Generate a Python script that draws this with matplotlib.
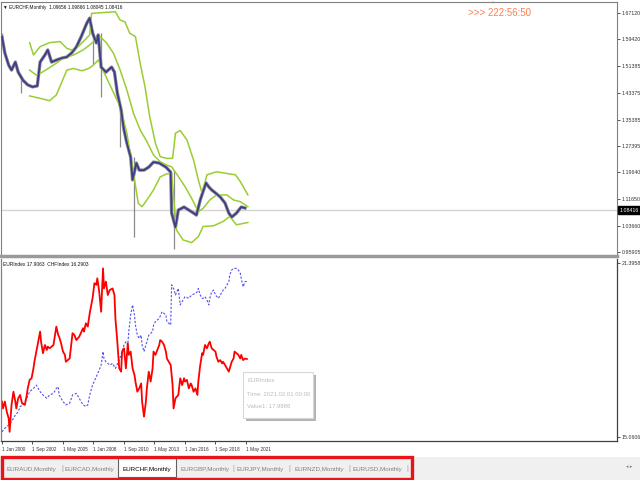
import numpy as np
import matplotlib
matplotlib.use('Agg')
import matplotlib.pyplot as plt
from matplotlib.patches import Rectangle
from matplotlib.transforms import blended_transform_factory

plt.rcParams['font.family'] = ['Liberation Sans', 'DejaVu Sans']

# EURCHF monthly close (month index from Jan 2000)
PX_M = [0, 3, 7, 10, 14, 17, 22, 27, 32, 37,
        40, 45, 48, 52, 57, 63, 68, 73, 78, 83,
        89, 92, 95, 99, 101, 104, 109, 115, 118, 121,
        125, 128, 131, 135, 137, 141, 144, 149, 154, 159,
        165, 172, 177, 178, 182, 185, 191, 196, 201, 204,
        208, 214, 217, 220, 224, 229, 234, 238, 241, 246,
        251, 255]
PX_V = [1.600, 1.552, 1.516, 1.501, 1.525, 1.495, 1.471, 1.457, 1.451, 1.454,
        1.525, 1.546, 1.561, 1.525, 1.531, 1.537, 1.540, 1.552, 1.570, 1.600,
        1.641, 1.656, 1.612, 1.582, 1.606, 1.510, 1.495, 1.510, 1.495, 1.433,
        1.382, 1.323, 1.284, 1.242, 1.174, 1.224, 1.203, 1.203, 1.212, 1.227,
        1.224, 1.212, 1.197, 1.075, 1.033, 1.084, 1.093, 1.084, 1.075, 1.069,
        1.114, 1.165, 1.153, 1.144, 1.135, 1.123, 1.105, 1.075, 1.063, 1.075,
        1.093, 1.090]

# long high/low wicks
WICK_M = [0, 20, 96, 104, 124, 138, 180]
WICK_HI = [1.612, 1.480, 1.620, 1.612, 1.382, 1.242, 1.203]
WICK_LO = [1.585, 1.433, 1.520, 1.421, 1.272, 1.004, 0.968]

# bands
UP_M = [29, 33, 40, 50, 61, 68, 73, 80, 87, 92, 94, 119, 124, 129, 134, 140, 145, 150,
        155, 161, 166, 173, 179, 182, 187, 194, 201, 206, 210, 215, 225, 236, 245, 250, 258]
UP_V = [1.583, 1.546, 1.571, 1.583, 1.586, 1.566, 1.561, 1.571, 1.591, 1.606, 1.670, 1.675,
        1.650, 1.645, 1.611, 1.601, 1.521, 1.452, 1.362, 1.283, 1.243, 1.238, 1.238, 1.313,
        1.321, 1.293, 1.233, 1.174, 1.134, 1.189, 1.198, 1.193, 1.189, 1.169, 1.129]
MID_M = [29, 36, 43, 54, 64, 75, 85, 92, 99, 103, 110, 117, 124, 131, 138, 145, 152, 159,
         166, 173, 178, 185, 192, 199, 206, 211, 218, 225, 236, 243, 250, 258]
MID_V = [1.501, 1.486, 1.496, 1.516, 1.536, 1.546, 1.561, 1.576, 1.593, 1.601, 1.581, 1.551,
         1.501, 1.442, 1.372, 1.323, 1.288, 1.248, 1.228, 1.218, 1.213, 1.184, 1.154, 1.119,
         1.079, 1.089, 1.114, 1.129, 1.129, 1.114, 1.109, 1.094]
LO_M = [29, 40, 50, 57, 63, 68, 75, 84, 91, 96, 101, 119, 124, 131, 138, 143, 147, 152,
        159, 166, 173, 178, 183, 190, 199, 206, 211, 222, 232, 239, 246, 258]
LO_V = [1.424, 1.417, 1.410, 1.427, 1.467, 1.501, 1.506, 1.499, 1.506, 1.516, 1.531, 1.422,
        1.392, 1.313, 1.193, 1.104, 1.094, 1.114, 1.144, 1.183, 1.192, 1.192, 1.025, 0.995,
        0.987, 1.005, 1.035, 1.037, 1.050, 1.065, 1.040, 1.047]

EUR_M = [0, 1, 3, 5, 7, 8, 10, 12, 14, 15,
         17, 19, 21, 24, 26, 27, 29, 31, 33, 34,
         36, 38, 40, 41, 43, 45, 47, 48, 50, 54,
         57, 59, 60, 62, 64, 66, 67, 71, 73, 74,
         76, 78, 81, 85, 86, 88, 90, 92, 93, 95,
         97, 99, 100, 102, 104, 106, 107, 109, 111, 113,
         116, 118, 119, 121, 123, 125, 126, 128, 130, 132,
         133, 135, 137, 139, 140, 142, 144, 146, 147, 149,
         151, 152, 154, 156, 158, 159, 161, 163, 165, 166,
         168, 170, 172, 173, 175, 177, 179, 180, 182, 185,
         187, 189, 191, 192, 194, 196, 198, 199, 201, 203,
         205, 206, 208, 210, 211, 213, 215, 217, 218, 220,
         222, 224, 225, 227, 229, 231, 232, 234, 236, 238,
         239, 241, 243, 244, 246, 248, 250, 251, 253, 255,
         257]
EUR_V = [16.35, 16.10, 16.35, 15.98, 15.74, 15.25, 16.23, 16.71, 16.35, 16.10,
         16.47, 16.59, 16.29, 16.23, 16.59, 16.83, 17.14, 17.20, 17.56, 17.80,
         18.17, 18.53, 18.90, 18.53, 18.11, 18.41, 18.23, 18.35, 18.29, 18.41,
         19.08, 18.77, 18.71, 18.47, 18.17, 18.05, 17.80, 17.92, 18.53, 18.84,
         18.77, 18.59, 18.71, 19.02, 18.90, 19.20, 19.08, 19.56, 19.75, 20.11,
         20.66, 20.60, 20.84, 20.35, 19.62, 21.20, 20.47, 20.72, 20.23, 20.41,
         20.47, 20.23, 19.38, 18.53, 17.56, 17.44, 18.17, 18.29, 17.56, 18.47,
         18.05, 18.17, 17.56, 17.32, 17.08, 16.71, 16.83, 17.01, 16.35, 15.80,
         16.35, 16.83, 17.44, 17.08, 17.56, 18.17, 18.05, 18.23, 18.41, 18.59,
         18.53, 18.41, 18.17, 17.92, 17.80, 17.68, 16.95, 16.10, 16.47, 16.59,
         17.20, 16.95, 17.20, 17.08, 17.14, 16.83, 17.01, 16.95, 16.71, 16.83,
         16.59, 17.08, 17.68, 18.11, 18.05, 18.41, 18.29, 18.47, 18.53, 18.29,
         18.23, 18.17, 17.99, 17.80, 17.86, 17.74, 17.80, 17.68, 17.56, 17.44,
         17.56, 17.80, 17.92, 18.17, 18.11, 18.05, 17.92, 18.05, 17.86, 17.92,
         17.90]

CHF_M = [0, 3, 7, 10, 14, 17, 19, 22, 26, 29,
         33, 36, 40, 43, 47, 50, 54, 57, 59, 60,
         64, 67, 71, 74, 78, 81, 85, 88, 90, 92,
         95, 99, 102, 104, 106, 107, 109, 113, 116, 119,
         123, 126, 128, 130, 132, 133, 135, 137, 139, 140,
         142, 144, 146, 147, 149, 151, 154, 158, 159, 161,
         165, 168, 172, 173, 175, 177, 178, 180, 182, 185,
         187, 189, 191, 192, 196, 199, 203, 205, 206, 208,
         210, 211, 213, 215, 217, 218, 220, 222, 224, 227,
         229, 232, 234, 238, 239, 241, 243, 246, 248, 250,
         251, 253, 255, 257]
CHF_V = [15.25, 15.38, 15.50, 15.62, 15.86, 15.98, 16.17, 16.23, 16.47, 16.71,
         16.83, 16.95, 16.71, 16.59, 16.47, 16.59, 16.65, 16.83, 16.89, 16.59,
         16.35, 16.23, 16.29, 16.59, 16.65, 16.47, 16.23, 16.17, 16.23, 16.59,
         16.95, 17.26, 17.50, 17.68, 18.17, 17.92, 17.80, 17.68, 17.74, 17.56,
         17.86, 18.17, 18.41, 18.53, 18.41, 18.90, 19.50, 19.87, 19.50, 19.14,
         18.77, 18.65, 18.77, 18.41, 18.17, 18.41, 18.77, 18.90, 19.14, 19.26,
         19.38, 19.62, 19.50, 19.26, 19.20, 19.14, 20.60, 20.47, 20.23, 20.47,
         19.87, 19.99, 20.11, 20.17, 20.11, 20.23, 20.29, 20.35, 20.47, 20.23,
         20.11, 20.11, 20.17, 20.05, 19.87, 20.11, 20.35, 20.41, 20.23, 20.11,
         20.23, 20.41, 20.47, 20.72, 20.96, 21.14, 21.20, 21.20, 21.14, 21.02,
         20.84, 20.53, 20.72, 20.72]

PRICE_TICKS = [1.67120, 1.59420, 1.51385, 1.43375, 1.35385, 1.27395, 1.19640, 1.11650, 1.03660, 0.95905]
IDX_TICKS = [21.3958, 15.0606]
TIME_TICKS = [0, 32, 64, 96, 128, 160, 192, 224, 256]
TIME_LABELS = ['1 Jan 2000', '1 Sep 2002', '1 May 2005', '1 Jan 2008', '1 Sep 2010',
               '1 May 2013', '1 Jan 2016', '1 Sep 2018', '1 May 2021']
LAST_PRICE = 1.08416
TABS = ['EURAUD,Monthly', 'EURCAD,Monthly', 'EURCHF,Monthly', 'EURGBP,Monthly',
        'EURJPY,Monthly', 'EURNZD,Monthly', 'EURUSD,Monthly']


def fx(px):
    return px / 640.0


def fy(py):
    return 1 - py / 480.0


fig = plt.figure(figsize=(6.4, 4.8), dpi=100)
fig.patch.set_facecolor('white')

ax1 = fig.add_axes([fx(1), fy(256), 616 / 640, 254 / 480])
ax2 = fig.add_axes([fx(1), fy(441), 616 / 640, 182 / 480])
XLIM = (-1.05, 645.3)

# --- price panel
ax1.vlines(WICK_M, WICK_LO, WICK_HI, color='#8a8a8a', lw=0.9, zorder=1)
ax1.plot(PX_M, PX_V, color='#8a8a8a', lw=2.4, zorder=1)
for bm, bv in [(UP_M, UP_V), (MID_M, MID_V), (LO_M, LO_V)]:
    ax1.plot(bm, bv, color='#9acd32', lw=1.1, zorder=2)
ax1.plot(PX_M, PX_V, color='#3d3a8f', lw=1.25, zorder=3)
ax1.axhline(LAST_PRICE, color='#d4d4d4', lw=1, zorder=0)
ax1.set_xlim(*XLIM)
ax1.set_ylim(0.9471, 1.7040)
ax1.set_xticks([])
ax1.yaxis.tick_right()
ax1.set_yticks(PRICE_TICKS)
ax1.set_yticklabels(['%.5f' % v for v in PRICE_TICKS])
ax1.tick_params(axis='y', length=2, width=0.6, labelsize=3.8, pad=1.5, colors='#333333')
for s in ax1.spines.values():
    s.set_color('#808080')
    s.set_linewidth(0.8)
ax1.spines['bottom'].set_linewidth(2.5)
ax1.spines['bottom'].set_color('#9a9a9a')
tr = blended_transform_factory(ax1.transAxes, ax1.transData)
ax1.text(1.004, LAST_PRICE, '%.5f' % LAST_PRICE, transform=tr, fontsize=3.8, color='white',
         va='center', ha='left', bbox=dict(facecolor='black', edgecolor='black', pad=0.8))

# --- index panel
ax2.plot(CHF_M, CHF_V, color='#5050f0', lw=0.8, ls=(0, (2, 1.5)))
ax2.plot(EUR_M, EUR_V, color='#ff0000', lw=1.3)
ax2.set_xlim(*XLIM)
ax2.set_ylim(14.915, 21.5414)
ax2.yaxis.tick_right()
ax2.set_yticks(IDX_TICKS)
ax2.set_yticklabels(['%.4f' % v for v in IDX_TICKS])
ax2.tick_params(axis='y', length=2, width=0.6, labelsize=3.8, pad=1.5, colors='#333333')
ax2.set_xticks(TIME_TICKS)
ax2.set_xticklabels(TIME_LABELS)
ax2.tick_params(axis='x', length=2, width=0.6, labelsize=3.4, pad=2, colors='#333333')
for lbl in ax2.get_xticklabels():
    lbl.set_ha('left')
for s in ax2.spines.values():
    s.set_color('#404040')
    s.set_linewidth(0.9)
ax2.spines['top'].set_visible(False)
ax2.spines['left'].set_color('#808080')

# --- texts
fig.text(fx(3), fy(7), '▼ EURCHF,Monthly  1.09656 1.09866 1.08045 1.08416', fontsize=3.4,
         va='center', color='#111111')
fig.text(fx(468), fy(13), '>>> 222:56:50', fontsize=7, va='center', color='#ff7f50')
fig.text(fx(490), fy(2.5), '▼', fontsize=3, va='center', color='#909090')
fig.text(fx(3), fy(264), 'EURIndex 17.9063  CHFIndex 16.2903', fontsize=3.5, va='center',
         color='#111111')

# tooltip
fig.add_artist(Rectangle((fx(246), fy(421)), 70 / 640, 46 / 480, transform=fig.transFigure,
                         facecolor='#b4b4b4', edgecolor='none', zorder=5))
fig.add_artist(Rectangle((fx(243), fy(418)), 70 / 640, 46 / 480, transform=fig.transFigure,
                         facecolor='white', edgecolor='#d8d8d8', lw=0.8, zorder=6))
for i, t in enumerate(['EURIndex', 'Time: 2021.02.01 00:00', 'Value1: 17.9886']):
    fig.text(fx(247), fy(381 + 13 * i), t, fontsize=4.3, va='center', color='#bcbcbc', zorder=7)

# tab bar
fig.add_artist(Rectangle((0, 0), 1, fy(457), transform=fig.transFigure,
                         facecolor='#f0f0f0', edgecolor='none', zorder=1))
fig.add_artist(Rectangle((fx(118), fy(477)), 58 / 640, 19 / 480, transform=fig.transFigure,
                         facecolor='white', edgecolor='#606060', lw=0.8, zorder=2))
tab_x = [31, 89.5, 147, 205, 260.5, 319, 377.5]
for i, name in enumerate(TABS):
    col = '#000000' if i == 2 else '#808080'
    fig.text(fx(tab_x[i]), fy(469), name, fontsize=4.5, ha='center', va='center', color=col, zorder=3)
for sx in [62, 233, 289, 349, 407]:
    fig.text(fx(sx), fy(469), '|', fontsize=5, ha='center', va='center', color='#a0a0a0', zorder=3)
fig.text(fx(629), fy(467), '◂ ▸', fontsize=3.5, ha='center', va='center', color='#808080', zorder=3)
fig.add_artist(Rectangle((fx(1.5), fy(478.5)), 410 / 640, 22 / 480, transform=fig.transFigure,
                         facecolor='none', edgecolor='#e8141c', lw=2.4, zorder=4))

fig.savefig('out.png', dpi=100)
